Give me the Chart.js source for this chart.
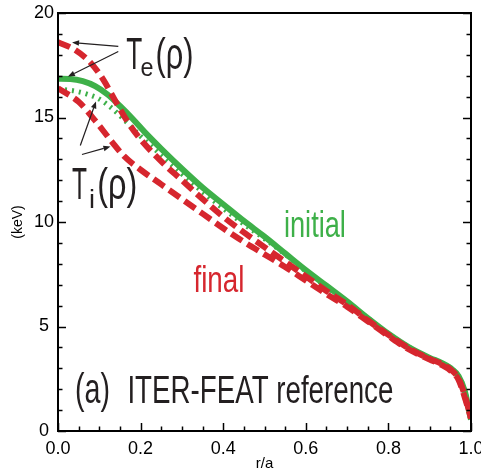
<!DOCTYPE html>
<html><head><meta charset="utf-8">
<script src="https://cdn.jsdelivr.net/npm/chart.js@4.4.1/dist/chart.umd.min.js"></script>
<style>html,body{margin:0;padding:0;background:#fff;overflow:hidden}</style>
</head><body>
<canvas id="c" width="481" height="473" style="display:block;width:481px;height:473px"></canvas>
<script>
// ---- data (r/a, keV) ----
const rTeInit = [0, 0.03, 0.06, 0.09, 0.12, 0.15, 0.18, 0.21, 0.25, 0.3, 0.35, 0.4, 0.45, 0.5, 0.55, 0.6, 0.65, 0.7, 0.75, 0.8, 0.85, 0.9, 0.93, 0.95, 0.97, 0.985, 1.0];
const teInitial = [16.85, 16.84, 16.74, 16.5, 16.1, 15.55, 14.95, 14.3, 13.5, 12.55, 11.65, 10.85, 10.05, 9.3, 8.5, 7.7, 6.95, 6.2, 5.4, 4.65, 4.0, 3.5, 3.25, 3.02, 2.62, 1.9, 0.55];

const rTiInit = [0, 0.04, 0.07, 0.1, 0.13, 0.16, 0.2, 0.25, 0.3, 0.35, 0.4, 0.45, 0.5, 0.55, 0.6, 0.65, 0.7, 0.75, 0.8, 0.85, 0.9, 0.93, 0.95, 0.97, 0.985, 1.0];
const tiInitial = [16.35, 16.27, 16.12, 15.88, 15.45, 14.9, 14.1, 13.2, 12.3, 11.45, 10.65, 9.9, 9.2, 8.45, 7.65, 6.9, 6.15, 5.4, 4.65, 4.0, 3.5, 3.25, 3.02, 2.62, 1.9, 0.55];

const rTeFinal = [0, 0.04, 0.08, 0.11, 0.14, 0.17, 0.2, 0.25, 0.3, 0.35, 0.4, 0.45, 0.5, 0.55, 0.6, 0.65, 0.7, 0.75, 0.8, 0.85, 0.9, 0.93, 0.95, 0.97, 0.985, 1.0];
const teFinal = [18.6, 18.25, 17.6, 16.8, 15.75, 14.75, 13.95, 12.9, 12.0, 11.1, 10.25, 9.5, 8.8, 8.1, 7.4, 6.7, 6.05, 5.3, 4.6, 3.95, 3.45, 3.2, 2.95, 2.5, 1.7, 0.6];

const rTiFinal = [0, 0.05, 0.09, 0.13, 0.16, 0.2, 0.25, 0.3, 0.35, 0.4, 0.45, 0.5, 0.55, 0.6, 0.65, 0.7, 0.75, 0.8, 0.85, 0.9, 0.93, 0.95, 0.97, 0.985, 1.0];
const tiFinal = [16.4, 15.75, 14.85, 13.85, 13.15, 12.5, 11.8, 11.1, 10.4, 9.7, 9.05, 8.45, 7.85, 7.2, 6.55, 5.95, 5.25, 4.55, 3.9, 3.42, 3.15, 2.9, 2.45, 1.6, 0.6];

const xTicks = [0, 0.2, 0.4, 0.6, 0.8, 1.0];
const yTicks = [0, 5, 10, 15, 20];

const GREEN = 'rgb(62,176,73)';
const RED = 'rgb(214,38,46)';
const INK = '#231f20';

const pts = (xs, ys) => xs.map((v, i) => ({x: v, y: ys[i]}));

function fitText(ctx, str, x, y, size, width, color) {
  ctx.font = size + 'px "Liberation Sans", Arial, sans-serif';
  const w = ctx.measureText(str).width;
  ctx.save();
  ctx.translate(x, y);
  ctx.scale(width / w, 1);
  ctx.fillStyle = color;
  ctx.textAlign = 'left';
  ctx.textBaseline = 'alphabetic';
  ctx.fillText(str, 0, 0);
  ctx.restore();
}

function arrow(ctx, x0, y0, x1, y1) {
  ctx.save();
  ctx.strokeStyle = INK; ctx.fillStyle = INK; ctx.lineWidth = 1.2;
  const a = Math.atan2(y1 - y0, x1 - x0);
  const hl = 7, hw = 2.8;
  const bx = x1 - hl * Math.cos(a), by = y1 - hl * Math.sin(a);
  ctx.beginPath(); ctx.moveTo(x0, y0); ctx.lineTo(bx, by); ctx.stroke();
  ctx.beginPath();
  ctx.moveTo(x1, y1);
  ctx.lineTo(bx + hw * Math.sin(a), by - hw * Math.cos(a));
  ctx.lineTo(bx - hw * Math.sin(a), by + hw * Math.cos(a));
  ctx.closePath(); ctx.fill();
  ctx.restore();
}

const framePlugin = {
  id: 'frameTicks',
  afterDraw(chart) {
    const {ctx, chartArea: {left, right, top, bottom}, scales: {x, y}} = chart;
    ctx.save();
    ctx.strokeStyle = '#000';
    ctx.lineWidth = 1.5;
    for (let i = 0; i <= 20; i++) {
      const v = i * 0.05;
      const px = Math.round(x.getPixelForValue(v)) + 0.5;
      const L = (i % 4 === 0) ? 8 : 4.5;
      ctx.beginPath(); ctx.moveTo(px, bottom); ctx.lineTo(px, bottom - L); ctx.stroke();
    }
    for (let v = 0; v <= 20; v++) {
      const py = Math.round(y.getPixelForValue(v)) + 0.5;
      const L = (v % 5 === 0) ? 8 : 4.5;
      ctx.beginPath(); ctx.moveTo(left, py); ctx.lineTo(left + L, py); ctx.stroke();
      ctx.beginPath(); ctx.moveTo(right, py); ctx.lineTo(right - L, py); ctx.stroke();
    }
    ctx.lineWidth = 2;
    ctx.strokeRect(left, top, right - left, bottom - top);
    ctx.restore();
  }
};

const annotPlugin = {
  id: 'annot',
  afterDatasetsDraw(chart) {
    const {ctx, scales: {x, y}} = chart;
    const X = v => x.getPixelForValue(v), Y = v => y.getPixelForValue(v);
    // T_e(rho)
    fitText(ctx, 'T', X(0.165), Y(17.3), 44, 16, INK);
    fitText(ctx, 'e', X(0.2), Y(17.0), 26, 13, INK);
    fitText(ctx, '(\u03C1)', X(0.236), Y(17.3), 44, 38, INK);
    // T_i(rho)
    fitText(ctx, 'T', X(0.034), Y(11.08), 44, 15, INK);
    fitText(ctx, 'i', X(0.075), Y(10.69), 26, 6, INK);
    fitText(ctx, '(\u03C1)', X(0.095), Y(11.08), 44, 40, INK);
    // labels
    fitText(ctx, 'initial', X(0.547), Y(9.26), 36, 62, GREEN);
    fitText(ctx, 'final', X(0.328), Y(6.63), 37, 51, RED);
    fitText(ctx, '(a)', X(0.041), Y(1.36), 42, 35, INK);
    fitText(ctx, 'ITER-FEAT reference', X(0.168), Y(1.36), 38, 266, INK);
    // arrows
    arrow(ctx, X(0.146), Y(18.40), X(0.034), Y(18.59));
    arrow(ctx, X(0.146), Y(18.16), X(0.024), Y(16.96));
    arrow(ctx, X(0.054), Y(13.66), X(0.092), Y(15.77));
    arrow(ctx, X(0.058), Y(13.23), X(0.127), Y(13.61));
  }
};

const tickFont = {family: '"Liberation Sans Narrow", "Liberation Sans", Arial, sans-serif', size: 18};

new Chart(document.getElementById('c'), {
  type: 'line',
  data: {
    datasets: [
      {label: 'Te final', data: pts(rTeFinal, teFinal), borderColor: RED, borderWidth: 6, borderDash: [13, 6], borderCapStyle: 'butt', pointRadius: 0, cubicInterpolationMode: 'monotone', fill: false},
      {label: 'Ti final', data: pts(rTiFinal, tiFinal), borderColor: RED, borderWidth: 6, borderDash: [13, 6], borderCapStyle: 'butt', pointRadius: 0, cubicInterpolationMode: 'monotone', fill: false},
      {label: 'Ti initial', data: pts(rTiInit, tiInitial), borderColor: GREEN, borderWidth: 5, borderDash: [2, 5], borderCapStyle: 'butt', pointRadius: 0, cubicInterpolationMode: 'monotone', fill: false},
      {label: 'Te initial', data: pts(rTeInit, teInitial), borderColor: GREEN, borderWidth: 6, pointRadius: 0, cubicInterpolationMode: 'monotone', fill: false}
    ]
  },
  options: {
    responsive: false,
    animation: false,
    devicePixelRatio: 1,
    events: [],
    layout: {padding: {top: 13, right: 10, left: 0, bottom: 0}},
    plugins: {legend: {display: false}, tooltip: {enabled: false}},
    scales: {
      x: {
        type: 'linear', min: 0, max: 1,
        grid: {display: false, drawTicks: false}, border: {display: false},
        afterBuildTicks: s => { s.ticks = xTicks.map(v => ({value: v})); },
        ticks: {color: '#000', font: tickFont, padding: 7, maxRotation: 0, autoSkip: false, callback: v => Number(v).toFixed(1)},
        title: {display: true, text: 'r/a', color: '#000', font: {family: '"Liberation Sans", Arial, sans-serif', size: 15}, padding: {top: 0, bottom: 0}},
        afterFit: s => { s.height = 42; s.paddingRight = 0; s.paddingLeft = 0; }
      },
      y: {
        type: 'linear', min: 0, max: 20,
        grid: {display: false, drawTicks: false}, border: {display: false},
        afterBuildTicks: s => { s.ticks = yTicks.map(v => ({value: v})); },
        ticks: {color: '#000', font: tickFont, padding: 4, crossAlign: 'center', callback: v => String(v)},
        title: {display: true, text: '(keV)', color: '#000', font: {family: '"Liberation Sans", Arial, sans-serif', size: 14}, padding: {top: 10, bottom: 0}},
        afterFit: s => { s.width = 58; s.paddingTop = 0; s.paddingBottom = 0; }
      }
    }
  },
  plugins: [framePlugin, annotPlugin]
});
</script>
</body></html>
